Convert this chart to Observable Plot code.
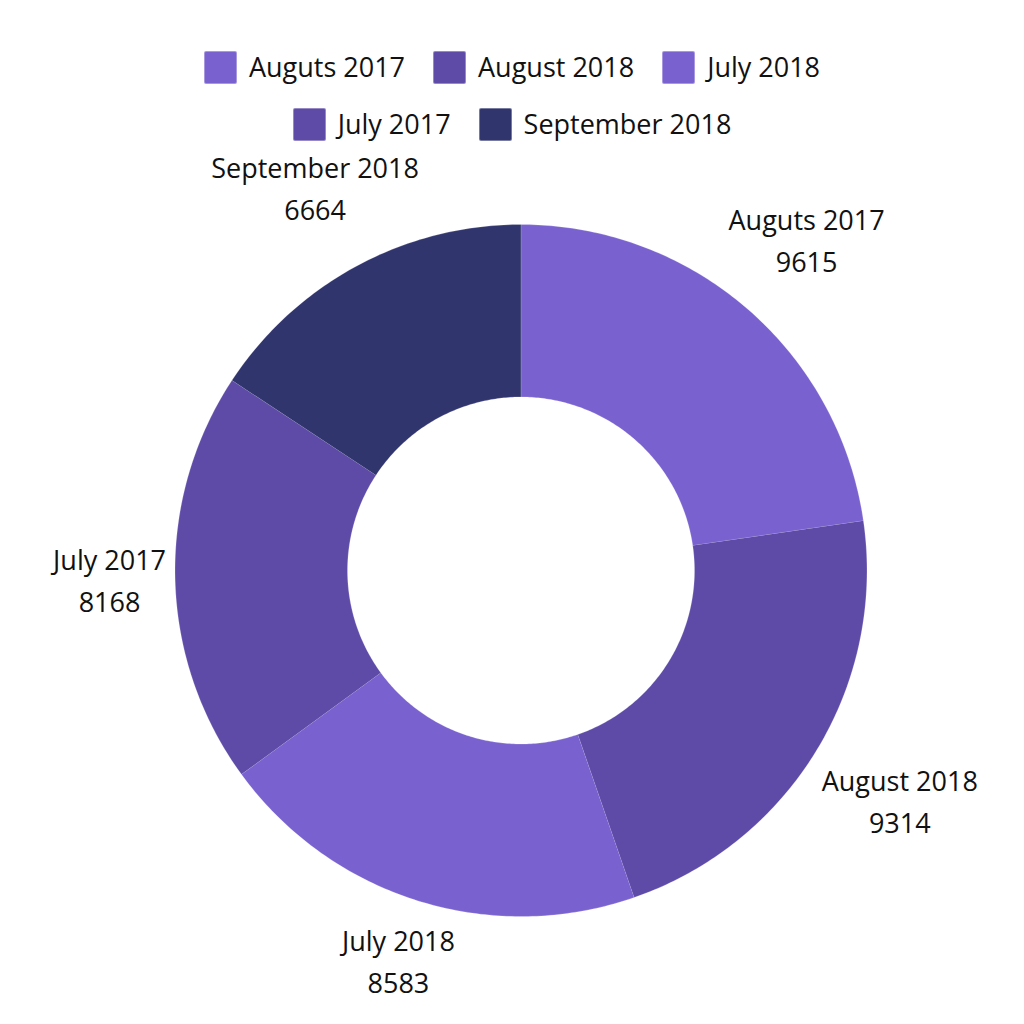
<!DOCTYPE html>
<html>
<head>
<meta charset="utf-8">
<script src="https://cdn.jsdelivr.net/npm/d3@7"></script>
<script src="https://cdn.jsdelivr.net/npm/@observablehq/plot@0.6"></script>
<style>
  html, body { margin: 0; padding: 0; background: #fff; }
  body { width: 1024px; height: 1024px; overflow: hidden; font-family: "Open Sans", sans-serif; }
  #legend { width: 1024px; height: 150px; box-sizing: border-box; padding-top: 49px; }
  .row { display: flex; justify-content: center; gap: 28px; height: 57px; }
  .item { display: flex; align-items: flex-start; gap: 12px; font-size: 27px; color: #111; }
  .sw { width: 33px; height: 33px; margin-top: 2px; box-sizing: border-box; border-radius: 2px; border: 1px solid rgba(255,255,255,0.35); }
  .item span { line-height: 35px; }
</style>
</head>
<body>
<div id="legend"></div>
<div id="chart"></div>
<script>
const categories = ["Auguts 2017", "August 2018", "July 2018", "July 2017", "September 2018"];
const values = [9615, 9314, 8583, 8168, 6664];
const colors = ["#7962CF", "#5E4BA8", "#7962CF", "#5E4BA8", "#31356E"];
const legendRows = [["Auguts 2017", "August 2018", "July 2018"], ["July 2017", "September 2018"]];

const colorOf = Object.fromEntries(categories.map((c, i) => [c, colors[i]]));

// legend
const legend = document.getElementById("legend");
for (const row of legendRows) {
  const r = document.createElement("div");
  r.className = "row";
  for (const name of row) {
    const it = document.createElement("div");
    it.className = "item";
    const sw = document.createElement("div");
    sw.className = "sw";
    sw.style.background = colorOf[name];
    const t = document.createElement("span");
    t.textContent = name;
    it.append(sw, t);
    r.append(it);
  }
  legend.append(r);
}

// donut geometry (in pixel-like data units)
const R = 346, r0 = 173.5, labelGap = 355;
const cx = 520.5, cy = 420; // center within the svg
const W = 1024, H = 874;
const fontSize = 27, lineH = 42;

const data = categories.map((c, i) => ({name: c, value: values[i]}));
const arcs = d3.pie().sort(null).value(d => d.value)(data);

const pts = [];
for (const a of arcs) {
  const n = Math.max(4, Math.ceil((a.endAngle - a.startAngle) * 80));
  for (let k = 0; k <= n; k++) {
    const t = a.startAngle + (a.endAngle - a.startAngle) * k / n;
    pts.push({name: a.data.name, x: R * Math.sin(t), y: R * Math.cos(t)});
  }
  for (let k = n; k >= 0; k--) {
    const t = a.startAngle + (a.endAngle - a.startAngle) * k / n;
    pts.push({name: a.data.name, x: r0 * Math.sin(t), y: r0 * Math.cos(t)});
  }
}

// label placement: push each label box outward along its mid-angle until
// its nearest point is labelGap away from the centre
const ctx = document.createElement("canvas").getContext("2d");
ctx.font = `${fontSize}px "Open Sans"`;
function nearestDist(x, y, hw, hh) {
  const dx = Math.max(0, Math.abs(x) - hw), dy = Math.max(0, Math.abs(y) - hh);
  return Math.hypot(dx, dy);
}
const labels = arcs.map(a => {
  const m = (a.startAngle + a.endAngle) / 2;
  const l1 = a.data.name, l2 = String(a.data.value);
  const w = Math.max(ctx.measureText(l1).width, ctx.measureText(l2).width);
  const hw = w / 2, hh = lineH;
  let lo = 0, hi = 1000;
  for (let i = 0; i < 60; i++) {
    const mid = (lo + hi) / 2;
    if (nearestDist(mid * Math.sin(m), mid * Math.cos(m), hw, hh) < labelGap) lo = mid; else hi = mid;
  }
  return {x: hi * Math.sin(m), y: hi * Math.cos(m), text: l1 + "\n" + l2};
});

const chart = Plot.plot({
  width: W,
  height: H,
  margin: 0,
  x: {domain: [-cx, W - cx], axis: null},
  y: {domain: [cy - H, cy], axis: null},
  color: {domain: categories, range: colors},
  style: {fontFamily: "Open Sans, sans-serif", background: "transparent"},
  marks: [
    Plot.line(pts, {x: "x", y: "y", z: "name", fill: "name", stroke: "white", strokeWidth: 0.6, strokeOpacity: 0.35, curve: "linear"}),
    Plot.text(labels, {x: "x", y: "y", text: "text", fontSize: fontSize, fill: "#111", lineHeight: lineH / fontSize, textAnchor: "middle", dy: -3})
  ]
});
document.getElementById("chart").append(chart);
</script>
</body>
</html>
